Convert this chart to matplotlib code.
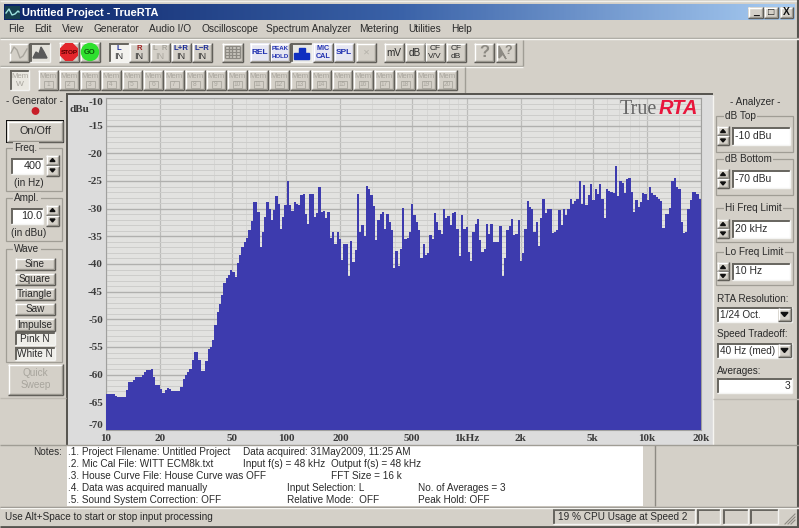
import numpy as np
import matplotlib
matplotlib.use("Agg")
import matplotlib.pyplot as plt
from matplotlib.colors import LinearSegmentedColormap
from matplotlib.patches import Rectangle, Circle, RegularPolygon, Polygon

plt.rcParams["font.family"] = ["Liberation Sans", "DejaVu Sans"]

# level of each 1/24 octave band from 10 Hz upwards
levels_db = [
    -63.5, -63.5, -63.5, -63.5, -63.8, -64.0, -64.1, -64.1, -64.1, -62.8,
    -61.4, -61.4, -61.0, -60.5, -60.5, -60.5, -60.0, -59.5, -59.2, -59.1,
    -59.0, -60.5, -61.9, -61.9, -62.6, -63.3, -62.8, -62.4, -62.6, -62.9,
    -62.9, -62.9, -62.9, -62.3, -60.8, -60.1, -59.5, -58.9, -57.4, -55.9,
    -55.9, -57.4, -59.4, -59.4, -57.6, -55.4, -55.0, -53.8, -51.1, -48.6,
    -47.2, -45.6, -43.5, -42.6, -42.0, -41.1, -41.5, -42.3, -39.9, -38.4,
    -36.9, -36.0, -35.3, -33.9, -32.3, -28.8, -28.8, -30.6, -37.0, -34.2,
    -31.5, -28.8, -30.0, -32.1, -30.3, -27.8, -29.1, -33.6, -31.5, -29.4,
    -25.0, -29.4, -30.4, -28.8, -29.1, -29.4, -27.6, -27.3, -30.9, -32.7,
    -27.4, -27.3, -31.5, -30.7, -26.1, -30.6, -30.5, -31.7, -30.6, -35.3,
    -34.3, -36.4, -34.3, -35.4, -39.3, -36.4, -36.4, -42.2, -35.8, -39.6,
    -37.5, -27.4, -34.2, -33.0, -35.0, -25.9, -26.5, -27.6, -29.6, -35.6,
    -32.1, -31.0, -30.6, -33.6, -30.9, -32.4, -33.9, -40.7, -37.6, -40.3,
    -37.3, -29.9, -35.4, -35.3, -34.2, -29.1, -31.2, -32.4, -33.9, -38.9,
    -36.3, -38.4, -38.0, -34.7, -35.5, -30.7, -32.4, -33.9, -34.5, -30.1,
    -31.7, -31.3, -32.9, -30.7, -30.6, -33.6, -38.6, -31.2, -33.6, -33.4,
    -37.8, -39.4, -34.2, -32.7, -31.8, -35.7, -37.8, -37.3, -32.7, -34.5,
    -32.7, -36.1, -36.1, -36.1, -33.2, -42.2, -39.0, -33.9, -33.2, -31.9,
    -34.8, -34.5, -32.1, -39.4, -38.1, -33.6, -28.7, -29.7, -30.0, -34.2,
    -32.5, -36.8, -31.6, -28.2, -30.7, -30.0, -30.0, -34.4, -34.2, -33.9,
    -30.3, -32.9, -30.0, -31.2, -30.0, -28.2, -29.1, -28.6, -28.3, -25.0,
    -29.1, -25.8, -29.4, -27.6, -25.6, -28.5, -26.4, -27.4, -25.6, -28.2,
    -31.7, -26.4, -26.8, -26.9, -27.1, -22.3, -27.8, -25.0, -25.3, -27.1,
    -24.7, -24.4, -27.0, -30.6, -28.4, -29.7, -28.8, -27.1, -27.3, -28.5,
    -26.1, -27.1, -27.6, -27.9, -28.2, -28.7, -33.5, -31.0, -31.0, -29.9,
    -25.0, -24.4, -26.1, -26.4, -32.4, -34.4, -34.3, -30.0, -28.5, -27.0,
    -27.0, -27.3, -28.3,
]
freq_ticks = [10, 20, 50, 100, 200, 500, 1000, 2000, 5000, 10000, 20000]
freq_labels = ["10", "20", "50", "100", "200", "500", "1kHz", "2k", "5k", "10k", "20k"]
db_ticks = [-10, -15, -20, -25, -30, -35, -40, -45, -50, -55, -60, -65, -70]

menu_names = ["File", "Edit", "View", "Generator", "Audio I/O", "Oscilloscope",
              "Spectrum Analyzer", "Metering", "Utilities", "Help"]
menu_x = [8, 34, 62, 93, 149, 202, 266, 359, 408, 451]
wave_names = ["Sine", "Square", "Triangle", "Saw", "Impulse", "Pink N", "White N"]
wave_y = [(258, 270), (273, 285), (288, 300), (303, 315), (318, 331), (332, 345), (347, 360)]

FACE = "#d4d0c8"
TXT = "#2a2a2a"
SIZE = 7.2

fig = plt.figure(figsize=(7.99, 5.28), dpi=100, facecolor=FACE)
ui = fig.add_axes([0, 0, 1, 1])
ui.axis("off")


def rect(x0, y0, x1, y1, color=FACE, z=1, **kw):
    ui.add_patch(Rectangle((x0, y0), x1 - x0, y1 - y0, facecolor=color,
                           edgecolor="none", zorder=z, **kw))


def hline(x0, x1, y, color, z=2, lw=1.0):
    ui.plot([x0, x1], [y, y], color=color, lw=lw, zorder=z, solid_capstyle="butt")


def vline(x, y0, y1, color, z=2, lw=1.0):
    ui.plot([x, x], [y0, y1], color=color, lw=lw, zorder=z, solid_capstyle="butt")


def label(x, y, s, ha="left", size=SIZE, color=TXT, z=5, **kw):
    ui.text(x, y, s, ha=ha, va="center", fontsize=size, color=color, zorder=z, **kw)


def raised(x0, y0, x1, y1, color=FACE, z=2):
    rect(x0, y0, x1, y1, color, z)
    hline(x0, x1, y0 + 0.5, "#ffffff", z + 0.1)
    vline(x0 + 0.5, y0, y1, "#ffffff", z + 0.1)
    hline(x0, x1, y1 - 0.5, "#55534e", z + 0.1)
    vline(x1 - 0.5, y0, y1, "#55534e", z + 0.1)
    hline(x0 + 1, x1 - 1, y1 - 1.5, "#9a978f", z + 0.1)
    vline(x1 - 1.5, y0 + 1, y1 - 1, "#9a978f", z + 0.1)


def sunken(x0, y0, x1, y1, color="#ffffff", z=2):
    rect(x0, y0, x1, y1, color, z)
    hline(x0, x1, y0 + 0.5, "#66645e", z + 0.1, 1.4)
    vline(x0 + 0.5, y0, y1, "#66645e", z + 0.1, 1.4)
    hline(x0, x1, y1 - 0.5, "#f4f4f2", z + 0.1)
    vline(x1 - 0.5, y0, y1, "#f4f4f2", z + 0.1)


def group(x0, y0, x1, y1, title, title_x):
    ui.add_patch(Rectangle((x0, y0), x1 - x0, y1 - y0, fill=False,
                           edgecolor="#a09d95", lw=0.9, zorder=2))
    ui.text(title_x, y0, title, ha="left", va="center", fontsize=SIZE, color=TXT, zorder=5,
            bbox=dict(facecolor=FACE, edgecolor="none", pad=1))


def spinner(x0, y0, x1, y1):
    mid = (y0 + y1) / 2
    raised(x0, y0, x1, mid)
    raised(x0, mid, x1, y1)
    cx = (x0 + x1) / 2
    ui.add_patch(Polygon([(cx - 2.5, y0 + 6.5), (cx + 2.5, y0 + 6.5), (cx, y0 + 3.5)], color="#111111", zorder=4))
    ui.add_patch(Polygon([(cx - 2.5, mid + 3.5), (cx + 2.5, mid + 3.5), (cx, mid + 6.5)], color="#111111", zorder=4))


def combo(x0, y0, x1, y1, s):
    sunken(x0, y0, x1, y1)
    raised(x1 - 14, y0 + 1, x1 - 1, y1 - 1)
    cx = x1 - 7.5
    cy = (y0 + y1) / 2
    ui.add_patch(Polygon([(cx - 3.5, cy - 2), (cx + 3.5, cy - 2), (cx, cy + 2)], color="#111111", zorder=4))
    label(x0 + 3, cy, s)


# window frame and title bar
rect(0, 0, 799, 528, FACE, 0)
hline(0, 799, 1, "#f0efea")
hline(0, 799, 527, "#55534e", lw=2)
vline(798, 0, 528, "#55534e", lw=1.5)
title_map = LinearSegmentedColormap.from_list("title", ["#0d2569", "#3a62a8", "#a8ccf2"])
ui.imshow(np.linspace(0, 1, 400)[None, :], extent=(4, 795, 20, 4), cmap=title_map,
          aspect="auto", zorder=1)
rect(5, 6, 20, 19, "#17414f", 2)
ui.plot([6, 9, 12, 15, 18, 19], [13, 9, 15, 14, 11, 12], color="#9fe3e0", lw=1.0, zorder=3)
ui.text(22, 12.5, "Untitled Project - TrueRTA", color="white", fontweight="bold",
        fontsize=7.9, va="center", ha="left", zorder=5)
for x0, x1, s in [(748, 763, "_"), (764, 778, "□"), (780, 793, "X")]:
    raised(x0, 7, x1, 18)
    label((x0 + x1) / 2, 12.3, s, ha="center", size=7.5, color="#111111", fontweight="bold")

# menu
for name, x in zip(menu_names, menu_x):
    label(x, 29, name, size=7.3)
hline(0, 799, 38, "#a09d95")
hline(0, 799, 39, "#f6f5f1")

# first toolbar
raised(9, 43, 29, 62)
ui.plot([11, 14, 17, 20, 23, 27], [53, 47, 50, 58, 56, 49], color="#a8a59d", lw=1, zorder=4)
sunken(30, 43, 50, 62, "#e3e1da")
ui.add_patch(Polygon([(33, 58), (36, 52), (39, 54), (41, 47), (44, 52), (47, 58)], color="#5a5a5a", zorder=4))
raised(59, 42, 79, 62)
ui.add_patch(RegularPolygon((69, 52), 8, radius=9, orientation=np.pi / 8, color="#e3262c", zorder=4))
label(69, 52, "STOP", ha="center", size=4.6, color="#5a0000", fontweight="bold")
raised(80, 42, 100, 62)
ui.add_patch(Circle((90, 52), 8.5, color="#2fe02f", zorder=4))
label(90, 52.5, "GO", ha="center", size=5.5, color="#0a5a0a", fontweight="bold")

for x0, top, col, state in [(109, "L", "#1f2f9a", "on"), (129, "R", "#a02020", "up"),
                            (150, "L  R", "#a8a59d", "off"), (171, "L+R", "#1f2f9a", "up"),
                            (192, "L−R", "#1f2f9a", "up")]:
    x1 = x0 + 20
    if state == "on":
        sunken(x0, 43, x1, 62, "#f3f2ee")
    else:
        raised(x0, 43, x1, 62)
    label((x0 + x1) / 2, 48.5, top, ha="center", size=5.6, color=col, fontweight="bold")
    label((x0 + x1) / 2, 56.5, "IN", ha="center", size=6.6,
          color="#a8a59d" if state == "off" else "#333333")

raised(222, 43, 243, 62)
for k in range(5):
    hline(225, 240, 46 + 3 * k, "#8d8a83", 4)
    vline(225 + 3.7 * k, 46, 58, "#8d8a83", 4)

for x0, top, bot, size in [(250, "REL", None, 6), (270, "PEAK", "HOLD", 4.4),
                           (313, "MIC", "CAL", 5.2), (334, "SPL", None, 6)]:
    raised(x0, 43, x0 + 20, 62, "#e6e6f2")
    if bot is None:
        label(x0 + 10, 52.5, top, ha="center", size=size, color="#1f2fb0", fontweight="bold")
    else:
        label(x0 + 10, 49, top, ha="center", size=size, color="#1f2fb0", fontweight="bold")
        label(x0 + 10, 57, bot, ha="center", size=size, color="#1f2fb0", fontweight="bold")
sunken(291, 43, 312, 62, "#e8e8e4")
ui.add_patch(Polygon([(294, 59), (294, 53), (299, 53), (299, 48), (305, 48), (305, 53),
                      (309, 53), (309, 59)], color="#0f2fc0", zorder=4))
raised(356, 43, 376, 62)
label(366, 52, "✕", ha="center", size=6, color="#b5b2aa", family="DejaVu Sans")

for x0, top, bot in [(384, "mV", None), (405, "dB", None), (425, "CF", "V/V"), (446, "CF", "dB")]:
    raised(x0, 43, x0 + 20, 62)
    if bot is None:
        label(x0 + 10, 52.5, top, ha="center", size=7.2)
    else:
        label(x0 + 10, 48.8, top, ha="center", size=6)
        label(x0 + 10, 56.5, bot, ha="center", size=6)
raised(474, 43, 494, 62)
label(484, 52.5, "?", ha="center", size=12, color="#8d8a83", fontweight="bold")
raised(496, 43, 516, 62)
label(508, 50.5, "?", ha="center", size=9, color="#8d8a83", fontweight="bold")
ui.add_patch(Polygon([(499, 46), (499, 58), (503, 54), (506, 59)], color="#8d8a83", zorder=4))
vline(523, 40, 66, "#a09d95")
hline(0, 523, 65.5, "#a09d95")
hline(0, 523, 66.5, "#f6f5f1")

# second toolbar, the memory buttons
sunken(10, 70, 29, 90, "#e9e7e0")
label(19.5, 76.5, "Mem", ha="center", size=5.6, color="#a8a59d")
label(19.5, 85, "W", ha="center", size=6, color="#a8a59d")
for k in range(20):
    x0 = 38 + 21 * k
    raised(x0, 70, x0 + 20, 90)
    label(x0 + 10, 76.5, "Mem", ha="center", size=5.6, color="#a8a59d")
    ui.add_patch(Rectangle((x0 + 5.5, 81), 9, 7, fill=False, edgecolor="#a8a59d", lw=0.6, zorder=4))
    label(x0 + 10, 84.7, str(k + 1), ha="center", size=4.8, color="#a8a59d")
vline(465, 67, 93, "#a09d95")

# plot panel
hline(66, 713, 94, "#55534e", lw=1.4)
vline(67, 94, 445, "#55534e", lw=1.4)
rect(68, 95, 713, 445, "#dcdcdc", 1)
vline(713, 95, 445, "#f6f5f1")

# generator panel
label(35, 101, "- Generator -", ha="center")
ui.add_patch(Circle((35.5, 111), 3.2, color="#c81e28", zorder=4))
rect(6, 120, 64, 143, "#111111", 2)
raised(7, 121, 63, 142, z=3)
label(35, 131, "On/Off", ha="center", size=7.8)
group(6, 148, 62, 191, "Freq.", 14)
sunken(11, 158, 43, 174)
label(42, 166, "400", ha="right", size=7.8)
spinner(46, 155, 59, 176)
label(14, 183, "(in Hz)")
group(6, 198, 62, 241, "Ampl.", 14)
sunken(11, 208, 43, 224)
label(42, 216, "10.0", ha="right", size=7.8)
spinner(46, 205, 59, 226)
label(11, 233, "(in dBu)")
group(6, 249, 62, 362, "Wave", 14)
for name, (y0, y1) in zip(wave_names, wave_y):
    if name in ("Pink N", "White N"):
        sunken(15, y0, 55, y1, "#efeee9")
    else:
        raised(15, y0, 55, y1)
    label(35, (y0 + y1) / 2 + 0.3, name, ha="center")
raised(8, 364, 63, 395)
label(35.5, 373, "Quick", ha="center", color="#a8a59d")
label(35.5, 385, "Sweep", ha="center", color="#a8a59d")
hline(0, 66, 398, "#bdb9b1")

# analyzer panel
label(755, 102, "- Analyzer -", ha="center")
for y0, y1, title, in_y0, in_y1, value in [(116, 152, "dB Top", 127, 145, "-10 dBu"),
                                           (159, 195, "dB Bottom", 170, 188, "-70 dBu"),
                                           (208, 242, "Hi Freq Limit", 220, 238, "20 kHz"),
                                           (252, 285, "Lo Freq Limit", 263, 280, "10 Hz")]:
    group(716, y0, 793, y1, title, 725)
    spinner(717, in_y0 - 1, 729, in_y1)
    sunken(732, in_y0, 790, in_y1)
    label(735, (in_y0 + in_y1) / 2, value, size=7.5)
label(717, 299, "RTA Resolution:")
combo(717, 307, 792, 322, "1/24 Oct.")
label(717, 334, "Speed Tradeoff:")
combo(717, 343, 792, 358, "40 Hz (med)")
label(717, 371, "Averages:")
sunken(717, 378, 792, 393)
label(790, 386, "3", ha="right", size=7.5)
hline(713, 799, 399, "#bdb9b1")

# notes
rect(67, 445, 643, 506, "#ffffff", 2)
hline(0, 799, 444.5, "#a09d95", 3)
vline(655, 445, 506, "#8d8a83")
label(62, 452, "Notes:", ha="right")
for x, y, s in [(68, 452, ".1. Project Filename: Untitled Project"),
                (243, 452, "Data acquired: 31May2009, 11:25 AM"),
                (68, 464, ".2. Mic Cal File: WITT ECM8k.txt"),
                (243, 464, "Input f(s) = 48 kHz"),
                (331, 464, "Output f(s) = 48 kHz"),
                (68, 476, ".3. House Curve File: House Curve was OFF"),
                (331, 476, "FFT Size = 16 k"),
                (68, 488, ".4. Data was acquired manually"),
                (287, 488, "Input Selection: L"),
                (418, 488, "No. of Averages = 3"),
                (68, 500, ".5. Sound System Correction: OFF"),
                (287, 500, "Relative Mode:  OFF"),
                (418, 500, "Peak Hold: OFF")]:
    label(x, y, s)

# status bar
hline(0, 799, 506.5, "#8d8a83", 3)
hline(0, 799, 507.5, "#f6f5f1", 3)
label(5, 517, "Use Alt+Space to start or stop input processing")
sunken(553, 509, 695, 524, FACE)
label(558, 517, "19 % CPU Usage at Speed 2")
for x0, x1 in [(697, 720), (723, 748), (750, 778)]:
    sunken(x0, 509, x1, 524, FACE)
for k in range(3):
    ui.plot([785 + 3 * k, 795], [524, 514 + 3 * k], color="#8d8a83", lw=0.8, zorder=3)

ui.set_xlim(0, 799)
ui.set_ylim(528, 0)

# the spectrum itself
ax = fig.add_axes([105.7 / 799, (528 - 430) / 528, (701.3 - 105.7) / 799, 332 / 528])
ax.set_facecolor("#e2e2e0")
band = 10 * 2 ** (np.arange(len(levels_db) + 1) / 24)
ax.bar(band[:-1], np.array(levels_db) + 70, width=np.diff(band), bottom=-70, align="edge",
       color="#3d3bae", linewidth=0, zorder=3)
ax.set_xscale("log")
ax.set_xlim(10, 20000)
ax.set_ylim(-70, -10)
minor_freq = [m * d for d in (10, 100, 1000) for m in (3, 4, 6, 7, 8, 9)] + [15000]
ax.set_xticks(freq_ticks, freq_labels)
ax.set_xticks(minor_freq, minor=True)
ax.set_xticklabels([], minor=True)
ax.set_yticks(db_ticks, [str(v) for v in db_ticks])
ax.set_yticks(np.arange(-70, -9), minor=True)
ax.grid(True, which="major", axis="y", color="#b0b0ae", lw=1.0, zorder=1)
ax.grid(True, which="major", axis="x", color="#bcbcba", lw=0.9, zorder=1)
ax.grid(True, which="minor", axis="x", color="#d6d6d4", lw=0.7, zorder=1)
ax.grid(True, which="minor", axis="y", color="#cdcdcb", lw=0.7, zorder=1)
ax.set_axisbelow(True)
ax.tick_params(which="both", length=0)
ax.tick_params(axis="y", pad=2)
ax.tick_params(axis="x", pad=3)
for lab in ax.get_xticklabels() + ax.get_yticklabels():
    lab.set_family("Liberation Serif")
    lab.set_fontweight("bold")
    lab.set_fontsize(8)
    lab.set_color("#3c3c3c")
ax.get_yticklabels()[0].set_va("top")
ax.get_yticklabels()[-1].set_va("bottom")
for s in ax.spines.values():
    s.set_color("#a0a09e")
    s.set_linewidth(0.8)

label(79, 109, "dBu", ha="center", size=8, color="#3c3c3c", family="Liberation Serif",
      fontweight="bold")

# logo
ax.text(620, 109, "True", transform=ui.transData, ha="left", va="center", fontsize=14.5,
        color="#666666", family="Liberation Serif", zorder=6)
ax.text(698, 109, "RTA", transform=ui.transData, ha="right", va="center", fontsize=14.5,
        color="#e8163c", family="Liberation Sans", fontweight="bold", fontstyle="italic", zorder=6)

fig.savefig("out.png", dpi=100, facecolor=FACE)
